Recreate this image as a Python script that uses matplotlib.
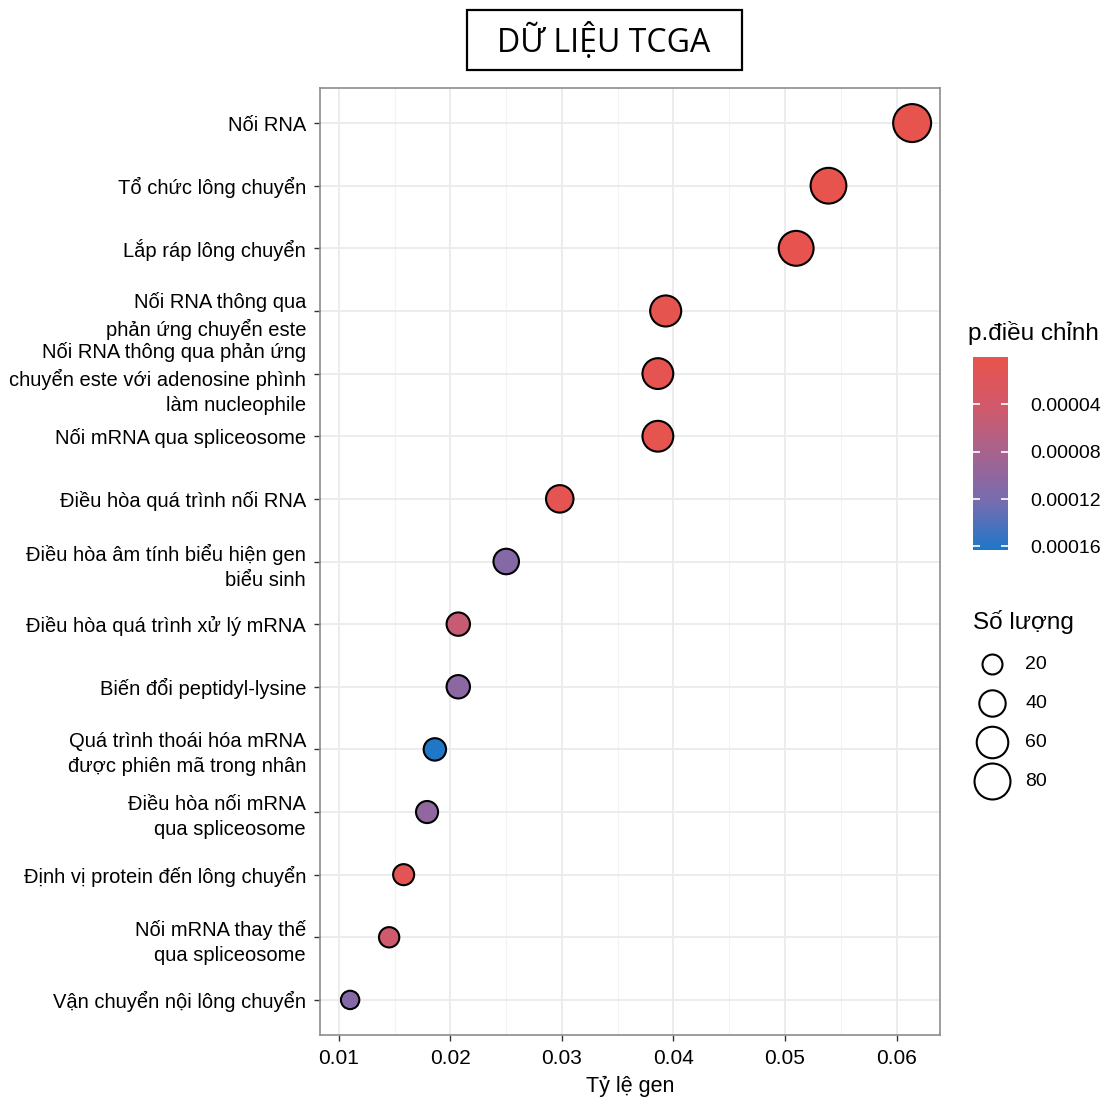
import numpy as np
import matplotlib
matplotlib.use("Agg")
from matplotlib import pyplot as plt
from matplotlib.colors import LinearSegmentedColormap, Normalize
from matplotlib.patches import Rectangle

plt.rcParams['font.family'] = ['Liberation Sans', 'DejaVu Sans']

# dati
terms = [
    "Nối RNA",
    "Tổ chức lông chuyển",
    "Lắp ráp lông chuyển",
    "Nối RNA thông qua\nphản ứng chuyển este",
    "Nối RNA thông qua phản ứng\nchuyển este với adenosine phình\nlàm nucleophile",
    "Nối mRNA qua spliceosome",
    "Điều hòa quá trình nối RNA",
    "Điều hòa âm tính biểu hiện gen\nbiểu sinh",
    "Điều hòa quá trình xử lý mRNA",
    "Biến đổi peptidyl-lysine",
    "Quá trình thoái hóa mRNA\nđược phiên mã trong nhân",
    "Điều hòa nối mRNA\nqua spliceosome",
    "Định vị protein đến lông chuyển",
    "Nối mRNA thay thế\nqua spliceosome",
    "Vận chuyển nội lông chuyển",
]
gene_ratio = [0.0614, 0.0539, 0.0510, 0.0393, 0.0386, 0.0386, 0.0298, 0.0250,
              0.0207, 0.0207, 0.0186, 0.0179, 0.0158, 0.0145, 0.0110]
counts = [90, 79, 75, 58, 57, 57, 44, 37, 30, 30, 27, 26, 23, 21, 16]
p_adj = [0.000002, 0.000002, 0.000003, 0.000005, 0.000006, 0.000004, 0.000008,
         0.000110, 0.000052, 0.000105, 0.000162, 0.000100, 0.000012, 0.000045, 0.000110]

size_breaks = [20, 40, 60, 80]
cbar_ticks = [0.00004, 0.00008, 0.00012, 0.00016]


def size_fn(c):
    # diametro in px ~ sqrt(100 + 14.9*c), convertito in punti^2
    return (100 + 14.9 * np.asarray(c, dtype=float)) / (100 / 72) ** 2


cmap = LinearSegmentedColormap.from_list(
    "pad", [(0.0, "#E8534C"), (0.25, "#D2596A"), (0.5, "#A6638E"),
            (0.75, "#766CB0"), (1.0, "#1F77C8")])
norm = Normalize(vmin=0, vmax=0.000163)

fig = plt.figure(figsize=(11.14, 11.03), dpi=100)
W, H = 1114, 1103
ax = fig.add_axes([320 / W, 1 - 1035 / H, 620 / W, 947 / H])

ypos = np.arange(len(terms))
ax.scatter(gene_ratio, ypos, s=size_fn(counts), c=p_adj, cmap=cmap, norm=norm,
           edgecolors="black", linewidths=1.5, zorder=3)

ax.set_xlim(0.0083, 0.0639)
ax.set_ylim(len(terms) - 1 + 0.56, -0.56)
ax.set_xticks([0.01, 0.02, 0.03, 0.04, 0.05, 0.06])
ax.set_xticklabels(["0.01", "0.02", "0.03", "0.04", "0.05", "0.06"])
ax.set_xticks([0.015, 0.025, 0.035, 0.045, 0.055], minor=True)
ax.set_yticks(ypos)
ax.set_yticklabels(terms, linespacing=1.4)

ax.grid(True, which="major", color="#EBEBEB", lw=1.3, zorder=0)
ax.grid(True, which="minor", axis="x", color="#F3F3F3", lw=0.8, zorder=0)
ax.set_axisbelow(True)
for sp in ax.spines.values():
    sp.set_color("#8C8C8C")
    sp.set_linewidth(1.2)
ax.tick_params(axis="y", which="major", labelsize=14.5)
ax.tick_params(axis="x", which="major", labelsize=15)
ax.tick_params(axis="both", which="major", colors="#333333",
               length=4, width=1, labelcolor="black", pad=6)
ax.tick_params(axis="x", which="minor", length=0)
ax.set_xlabel("Tỷ lệ gen", fontsize=15.5, labelpad=6)

# titolo nel riquadro
fig.patches.append(Rectangle((467 / W, 1 - 70 / H), 275 / W, 60 / H,
                             transform=fig.transFigure, fill=False,
                             ec="black", lw=1.6))
fig.text(604 / W, 1 - 41 / H, "DỮ LIỆU TCGA", ha="center", va="center",
         fontsize=23, family=["Open Sans", "DejaVu Sans"])

# colorbar
cax = fig.add_axes([973 / W, 1 - 550 / H, 35 / W, 193 / H])
sm = plt.cm.ScalarMappable(norm=norm, cmap=cmap)
cb = fig.colorbar(sm, cax=cax, ticks=cbar_ticks)
cb.outline.set_visible(False)
cax.invert_yaxis()
cax.set_yticklabels(["0.00004", "0.00008", "0.00012", "0.00016"])
cax.tick_params(axis="y", direction="in", color="white", length=5, width=1.2,
                left=True, right=True, labelsize=14, pad=16)
fig.text(968 / W, 1 - 333 / H, "p.điều chỉnh", fontsize=17.5, va="center", ha="left")

# legenda dimensioni
handles = [ax.scatter([], [], s=size_fn(c), facecolor="white", edgecolor="black",
                      linewidths=1.5) for c in size_breaks]
leg = fig.legend(handles, [str(c) for c in size_breaks], title="Số lượng",
                 loc="upper left", bbox_to_anchor=(959 / W, 1 - 596 / H),
                 frameon=False, fontsize=14, title_fontsize=17.5,
                 labelspacing=1.1, handletextpad=0.7, borderpad=0.2)
leg._legend_box.align = "left"

fig.savefig("out.png", dpi=100)
